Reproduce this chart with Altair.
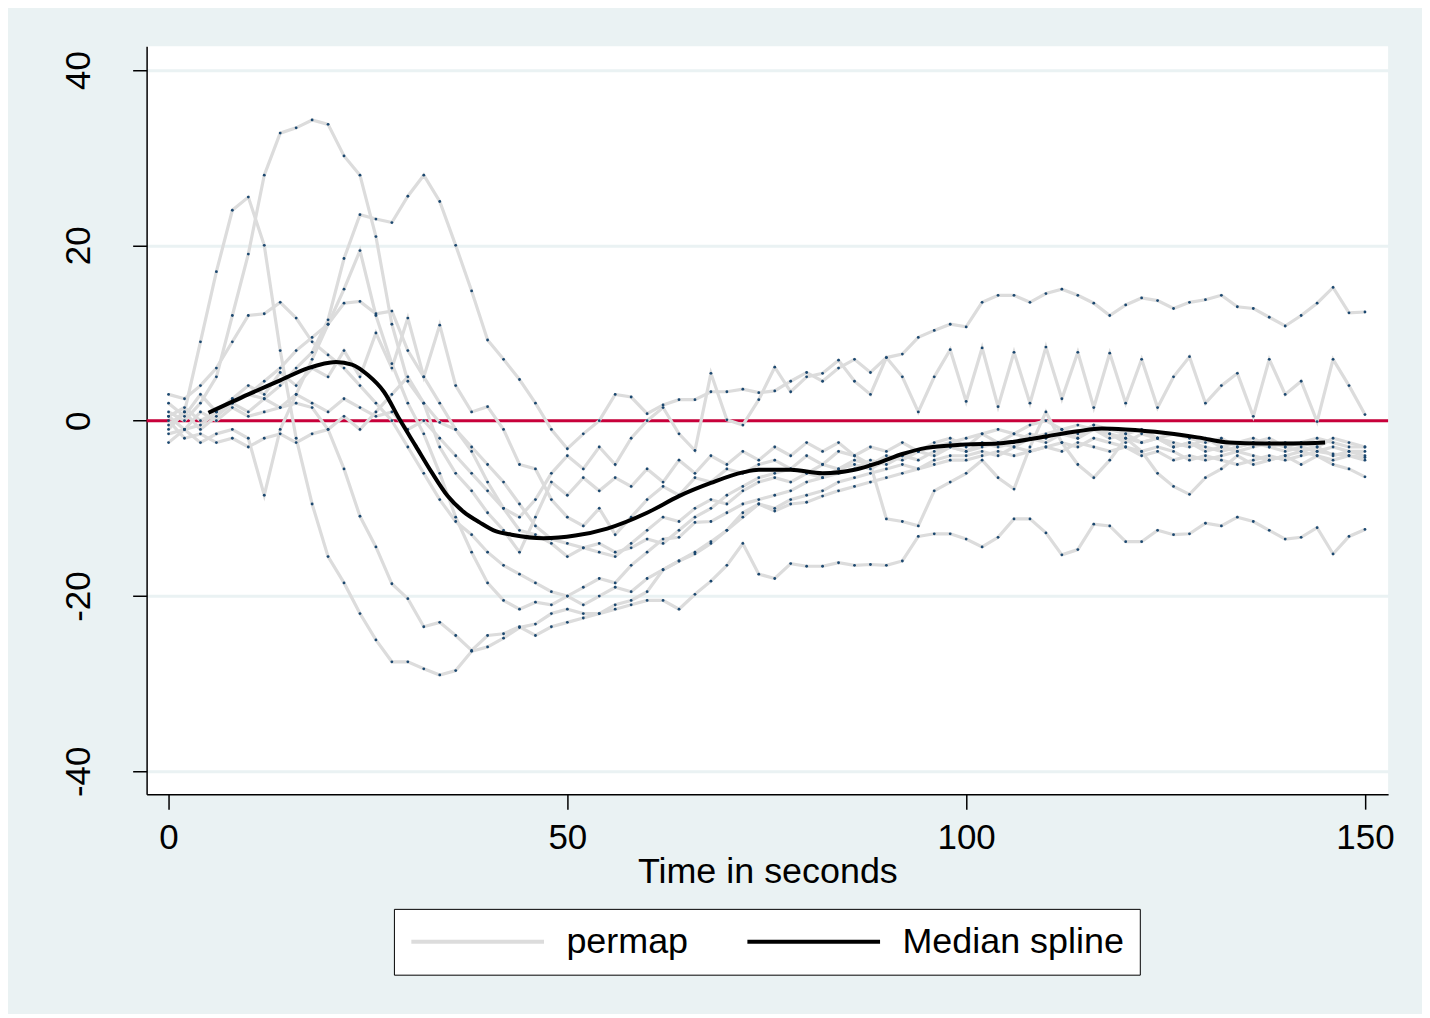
import altair as alt
import pandas as pd

# ---------------- data ----------------
t = list(range(0, 151, 2))  # seconds, every 2 s (76 points)

s1 = [1, 0, 2, 5, 12, 19, 28, 32.8, 33.4, 34.3, 33.8, 30.2, 28, 21, 11, 4.5, 2, -0.2, -1, -3.5,
      -7, -10, -12.5, -13, -14, -15.5, -14.5, -15, -15.5, -14, -12.5, -11, -11.5, -10, -9, -9.5, -8, -7, -6.5, -7,
      -6, -6.5, -5.5, -5, -5.5, -4.5, -4, -4.5, -3.5, -3, -3.5, -3, -2.5, -3, -2, -2.5, -1.5, -2, -1, -1.5,
      -2, -2.5, -2, -3, -2.5, -3, -3.5, -3, -2.5, -3, -3.5, -3, -3.5, -3, -3.5, -3.5]
s2 = [-1, 1, 9, 17, 24, 25.5, 20, 8, -2, -9.5, -15.5, -18.5, -22, -25, -27.5, -27.5, -28.3, -29, -28.5, -26.3,
      -25.8, -24.8, -23.6, -23.2, -22, -21.5, -22, -22, -21.5, -21, -20.5, -20.5, -21.5, -19.8, -18.3, -16.5, -14, -17.5, -18, -16.3,
      -16.6, -16.6, -16.2, -16.5, -16.4, -16.5, -16, -13.2, -12.9, -12.9, -13.5, -14.4, -13.3, -11.2, -11.2, -12.8, -15.3, -14.7, -11.8, -12,
      -13.8, -13.8, -12.5, -13, -12.9, -11.7, -12, -11, -11.5, -12.5, -13.5, -13.3, -12.2, -15.2, -13.2, -12.4]
s3 = [0.5, 1.5, 0, 1, 2, 3, 2.5, 4, 6, 7.8, 11.5, 18.5, 23.5, 23, 22.6, 25.6, 28, 25, 20, 14.8,
      9.2, 7, 4.7, 2, -1, -3.2, -1.5, 0, 3, 2.7, 0.8, 1.8, 2.4, 2.4, 3.3, 3.3, 3.6, 3.2, 3.4, 4.5,
      5.5, 4.5, 6, 7, 5.5, 7.2, 7.6, 9.5, 10.3, 11, 10.7, 13.5, 14.3, 14.3, 13.5, 14.5, 15, 14.3, 13.4, 12,
      13.2, 14, 13.7, 12.8, 13.5, 13.8, 14.3, 13, 12.8, 11.8, 10.8, 12, 13.4, 15.2, 12.3, 12.4]
s4 = [-1.5, -1, -2.5, -1.5, -1, -2, -8.5, -1, 3, 7, 11, 15, 19.4, 12, 6.5, 2, -1.5, -6, -11, -15,
      -18.5, -20.5, -21.5, -20.7, -21, -20, -21, -20, -19, -19.5, -18, -17, -16, -15, -13.8, -12.5, -10.5, -9.5, -10.3, -9.5,
      -9.3, -8.6, -8, -7.5, -7, -6.5, -6, -5.5, -5, -4.5, -4.5, -4, -3.5, -4, -3.5, -3, -3.5, -2.5, -3, -3.5,
      -3, -4, -3.5, -4.5, -4, -4.5, -4, -3.5, -4, -4.5, -4, -3.5, -4, -4.5, -4, -4.5]
s5 = [0.5, -1, 1, 0, 1.5, 0.5, 1, 1.5, 2, 1.5, -1, -5.5, -10.9, -14.4, -18.6, -20.3, -23.5, -23, -24.5, -26.2,
      -24.5, -24.3, -23.5, -24.5, -23.5, -23, -22.5, -22, -21, -20.5, -19.5, -17, -16, -15.2, -14, -12.5, -11, -9.5, -10, -9,
      -8.5, -8, -7, -6.5, -6, -5.5, -5, -5.5, -4.5, -4, -4, -3.5, -4, -3, -3.5, -3, -2.5, -3, -2, -2.5,
      -3, -3.5, -3, -3.5, -4.5, -4, -4.5, -5, -4.5, -4, -4.5, -4, -3.5, -3.8, -4, -4.2]
s6 = [2, 0.5, 3, 1, 2.5, 4, 3, 5.5, 4, 6, 5, 8, 5, 10, 6, 11.7, 5, 10.9, 4, 1,
      1.6, -1, -5, -5.5, -9, -11, -12, -10, -13, -11, -9, -7.5, -8.5, -6.5, -7, -5.5, -6, -5, -4.5, -5.5,
      -4, -5, -3.5, -4, -3, -3.5, -2.5, -3.5, -2.5, -2, -3, -1.5, -2.5, -1.5, -2, -1.5, -1, -2, -0.5, -1.5,
      -2.5, -1.5, -2, -2.5, -3, -2, -3, -2.5, -2, -3, -2.5, -2.5, -2, -2.5, -3, -3]
s7 = [-0.5, 1, -1, 0.5, 2, 1, 2.5, 1.5, 3, 2, 1, 2.5, 1.5, 0.5, 1, -1, 0, -2, -4, -6,
      -8, -10, -11, -9, -6, -4, -5.5, -3, -5, -2, 0, 1.5, -1.5, -3.4, 5.4, 0.1, -0.5, 2.4, 6.1, 3.3,
      5, 5.4, 6.9, 4.5, 3, 7.2, 5, 1, 5, 8.1, 2.2, 8.3, 1.6, 7.8, 2, 8.4, 2.5, 7.8, 1.5, 7.7,
      2, 7, 1.5, 5, 7.3, 2, 4, 5.4, 0.5, 7, 3, 4.5, -0.1, 7, 4, 0.7]
s8 = [0, -2, -1.5, -2.5, -2, -3, -2, -1.5, -2.5, -1.5, -1, 0.5, -1, 1, 3, 5, 2, -3, -6, -8,
      -10.5, -12.5, -15, -11, -7, -8.5, -6.5, -8, -6.5, -7.5, -5.5, -7, -4.5, -6, -4, -5, -3.5, -4.5, -3, -4,
      -2.5, -3.5, -2.5, -4, -5, -11.2, -11.5, -12, -8, -7, -6, -4.5, -6.5, -7.8, -3, 1, -2.5, -5, -6.5, -4.5,
      -2, -3.5, -6, -7.5, -8.4, -6.5, -5.5, -4, -5, -4.5, -4, -5, -4, -5, -5.5, -6.4]
s9 = [3, 2.5, 4, 6, 9, 12, 12.2, 13.5, 11.7, 9, 7.5, 6, 4, 2, 0, -3, -6, -9, -11.5, -13,
      -15, -16.5, -17.5, -18.5, -19.5, -20, -19, -18, -18.5, -16.5, -15, -13.5, -13.3, -11.6, -11.5, -10.5, -9.5, -9, -8.5, -8,
      -7, -6.5, -6, -5.5, -4.5, -5, -4, -3.5, -4, -3, -3.5, -2.5, -3, -2.5, -1.5, -2, -1, -1.5, -0.5, -1,
      -1.5, -1, -2, -1.5, -2, -2.5, -2, -3, -2.5, -2, -3, -2.5, -3, -2, -2.5, -3]
s10 = [-2.5, -1, -0.5, 1, 2.5, 3, 4.5, 6, 8, 9.5, 11, 13.4, 13.6, 12.2, 12.5, 8, 5, 2, -1, -3,
       -5, -7, -9.5, -12, -13.5, -14, -14.5, -14, -15, -14.5, -13.5, -14, -12.5, -11, -10, -8.5, -7.5, -6.5, -6, -5.5,
       -6, -5, -5.5, -4.5, -5, -4, -4.5, -3.5, -3, -2.5, -2, -1.5, -1, -1.5, -0.5, 0, -1, -0.5, -1, -2,
       -1.5, -2.5, -2, -3, -2.5, -3.5, -3, -3.5, -3, -2.5, -3, -3.5, -3, -4, -3.5, -4]

spline_t = [5, 10, 14, 17.5, 21, 23, 25, 27, 29, 31, 33, 35, 37, 39, 41, 43, 47, 51, 55, 60,
            64, 68, 72, 74, 78, 82, 86, 89, 92, 95, 100, 104, 106, 110, 114, 117, 120, 125, 129, 133,
            137, 141, 145]
spline_v = [0.9, 3.0, 4.6, 6.0, 6.7, 6.4, 5.2, 3.3, 0.1, -2.9, -5.9, -8.6, -10.4, -11.6, -12.6, -13.0, -13.4, -13.1, -12.3, -10.5,
            -8.6, -7.1, -5.9, -5.6, -5.6, -6.0, -5.6, -4.8, -3.8, -3.1, -2.7, -2.6, -2.4, -1.8, -1.2, -0.9, -1.0, -1.4, -1.9, -2.5,
            -2.6, -2.6, -2.5]

x_ticks = [0, 50, 100, 150]
y_ticks = [-40, -20, 0, 20, 40]
ref_y = [0]

# ---------------- frames ----------------
series = [s1, s2, s3, s4, s5, s6, s7, s8, s9, s10]
rows = []
for i, s in enumerate(series):
    for tt, v in zip(t, s):
        rows.append({"t": tt, "v": v, "subject": f"subj{i + 1}", "series": "permap"})
df = pd.DataFrame(rows)
dfm = pd.DataFrame({"t": spline_t, "v": spline_v, "series": "Median spline"})
dref = pd.DataFrame({"v": ref_y})

FONT = "Liberation Sans"

xscale = alt.Scale(domain=[-2.75, 152.9], nice=False, zero=False)
yscale = alt.Scale(domain=[-42.6, 42.7], nice=False, zero=False)

xaxis = alt.Axis(values=x_ticks, title="Time in seconds", grid=False, tickSize=15,
                 tickColor="black", tickWidth=1.5, domainColor="black", domainWidth=1.5,
                 labelFontSize=35, labelFont=FONT, labelColor="black", labelPadding=11,
                 titleFontSize=36, titleFont=FONT, titleColor="black", titleFontWeight="normal",
                 titlePadding=0, labelFlush=False, labelExpr="'' + datum.value")
yaxis = alt.Axis(values=y_ticks, title=None, grid=True, gridColor="#eaf2f3", gridWidth=3,
                 tickSize=14, tickColor="black", tickWidth=1.5, domainColor="black", domainWidth=1.5,
                 labelFontSize=35, labelFont=FONT, labelColor="black", labelAngle=270,
                 labelAlign="center", labelBaseline="alphabetic", labelPadding=43, labelFlush=False,
                 labelExpr="'' + datum.value")

X = alt.X("t:Q", scale=xscale, axis=xaxis)
Y = alt.Y("v:Q", scale=yscale, axis=yaxis)

color = alt.Color(
    "series:N",
    scale=alt.Scale(domain=["permap", "Median spline"], range=["#dcdcdc", "#000000"]),
    legend=alt.Legend(
        title=None, orient="none", legendX=248, legendY=865, direction="horizontal",
        symbolType="M-5,0H5", symbolSize=708, symbolStrokeWidth=4, symbolOffset=51,
        labelOffset=71, labelFontSize=36, labelFont=FONT, labelColor="black",
        columnPadding=50, padding=15, strokeColor="black", fillColor="white",
        labelLimit=400,
    ),
)

ref = alt.Chart(dref).mark_rule(color="#c8003a", strokeWidth=3).encode(y=Y)

lines = alt.Chart(df).mark_line(strokeWidth=3.2).encode(
    x=X, y=Y, detail="subject:N", color=color, order="t:Q"
)
pts = alt.Chart(df).mark_point(filled=True, size=8, shape="circle", opacity=1).encode(
    x=X, y=Y, color=alt.value("#1a476f")
)
med = alt.Chart(dfm).mark_line(strokeWidth=4, interpolate="monotone").encode(
    x=X, y=Y, color=color, order="t:Q"
)

chart = alt.layer(ref, lines, pts, med).properties(
    width=1245, height=750,
    padding={"left": 139, "top": 37, "right": 34, "bottom": 219},
    autosize=alt.AutoSizeParams(type="none"),
    background="#eaf2f3",
).configure_view(fill="white", stroke=None)

chart.save("out.html", embed_options={"renderer": "svg", "actions": False})
